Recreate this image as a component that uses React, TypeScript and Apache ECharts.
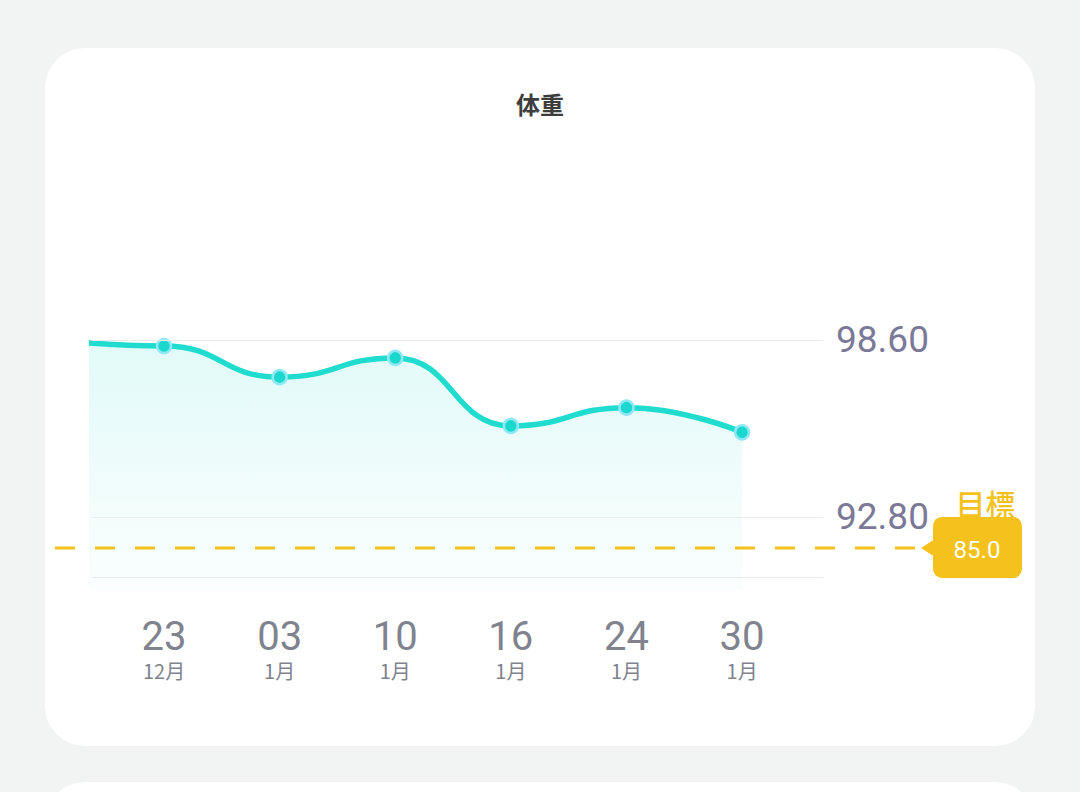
import React, { useEffect, useRef } from "react";
import * as echarts from "echarts";

// ---- data ----
const DAYS = ["23", "03", "10", "16", "24", "30"];
const MONTHS = ["12月", "1月", "1月", "1月", "1月", "1月"];
const WEIGHTS = [98.4, 97.38, 98.01, 95.78, 96.38, 95.57];
const LEAD_IN_WEIGHT = 98.62; // earlier record, just off the left edge
const LABELED_LINES = [98.6, 92.8];
const BOTTOM_LINE = 90.83;
const TITLE = "体重";
const TARGET_TITLE = "目標";
const TARGET_VALUE = "85.0";
const TARGET_DRAW_LEVEL = 91.78; // level at which the app draws the target line

const W = 1080;
const H = 792;
const YELLOW = "#f5c21d";

export default function App() {
  const ref = useRef<HTMLDivElement>(null);

  useEffect(() => {
    if (!ref.current) return;
    const chart = echarts.init(ref.current, null, { renderer: "svg", width: W, height: H });

    const seriesData: any[] = [
      { value: [-1, LEAD_IN_WEIGHT], symbol: "none" },
      ...WEIGHTS.map((w, i) => [i, w]),
    ];

    const markData: any[] = [
      ...LABELED_LINES.map((v) => ({ yAxis: v })),
      { yAxis: BOTTOM_LINE, label: { show: false } },
    ];

    const cards = [
      {
        type: "rect",
        z: -10,
        silent: true,
        shape: { x: 45, y: 48, width: 990, height: 698, r: 40 },
        style: { fill: "#ffffff" },
      },
      {
        type: "rect",
        z: -10,
        silent: true,
        shape: { x: 45, y: 782, width: 990, height: 200, r: 40 },
        style: { fill: "#ffffff" },
      },
    ];

    chart.setOption({
      animation: false,
      backgroundColor: "#f2f4f3",
      title: {
        text: TITLE,
        left: "center",
        top: 86,
        textStyle: {
          fontSize: 24,
          fontWeight: 600,
          color: "#3d3d3d",
          fontFamily: "'Noto Sans CJK SC', sans-serif",
        },
      },
      grid: { left: 92, right: 257, top: 160, bottom: 202 },
      xAxis: {
        type: "value",
        min: -0.623,
        max: 5.7,
        axisLine: { show: false },
        axisTick: { show: false },
        splitLine: { show: false },
        axisLabel: {
          customValues: [0, 1, 2, 3, 4, 5],
          margin: 24,
          formatter: (v: number) => {
            const i = Math.round(v);
            if (Math.abs(v - i) > 1e-6 || i < 0 || i >= DAYS.length) return "";
            return `{d|${DAYS[i]}}\n{m|${MONTHS[i]}}`;
          },
          rich: {
            d: {
              fontSize: 40,
              lineHeight: 44,
              color: "#80838e",
              fontFamily: "Roboto, sans-serif",
            },
            m: {
              fontSize: 20,
              lineHeight: 24,
              color: "#80838e",
              fontFamily: "'Noto Sans CJK SC', sans-serif",
            },
          },
        },
      },
      yAxis: {
        type: "value",
        min: 90.4,
        max: 104.5,
        show: false,
        splitLine: { show: false },
      },
      series: [
        {
          type: "line",
          data: seriesData,
          clip: true,
          smooth: 0.5,
          smoothMonotone: "x",
          symbol: "circle",
          symbolSize: 14,
          showSymbol: true,
          lineStyle: { color: "#1fdccf", width: 5.5 },
          itemStyle: { color: "#1bd8cf", borderColor: "#8fe8f3", borderWidth: 2.5 },
          areaStyle: {
            origin: "start",
            color: new echarts.graphic.LinearGradient(0, 0, 0, 1, [
              { offset: 0, color: "rgba(40,220,205,0.2)" },
              { offset: 1, color: "rgba(40,220,205,0.03)" },
            ]),
          },
          z: 3,
          markLine: {
            silent: true,
            symbol: ["none", "none"],
            precision: 2,
            lineStyle: { type: "solid", color: "#e9eaea", width: 1 },
            label: {
              show: true,
              position: "end",
              distance: 13,
              formatter: (p: any) => Number(p.value).toFixed(2),
              fontSize: 37,
              color: "#7b7997",
              fontFamily: "Roboto, sans-serif",
            },
            data: markData,
          },
        },
      ],
      graphic: cards,
    });

    // target annotation positioned through the chart's own scale
    const ty = chart.convertToPixel({ yAxisIndex: 0 }, TARGET_DRAW_LEVEL) as number;
    const badgeX = 933;
    const badgeW = 89;
    const badgeH = 61;
    chart.setOption({
      graphic: [
        ...cards,
        {
          type: "line",
          z: 5,
          silent: true,
          shape: { x1: 55, y1: ty, x2: 922, y2: ty },
          style: { stroke: YELLOW, lineWidth: 3, lineDash: [20, 20] },
        },
        {
          type: "text",
          z: 5,
          silent: true,
          style: {
            text: TARGET_TITLE,
            x: badgeX + badgeW / 2 + 8,
            y: ty - 45,
            align: "center",
            verticalAlign: "middle",
            fill: YELLOW,
            fontSize: 30,
            fontWeight: 500,
            fontFamily: "'Noto Sans CJK TC', sans-serif",
          },
        },
        {
          type: "polygon",
          z: 6,
          silent: true,
          shape: {
            points: [
              [badgeX - 12, ty],
              [badgeX + 2, ty - 9],
              [badgeX + 2, ty + 9],
            ],
          },
          style: { fill: YELLOW },
        },
        {
          type: "rect",
          z: 6,
          silent: true,
          shape: { x: badgeX, y: ty - 31, width: badgeW, height: badgeH, r: 9 },
          style: { fill: YELLOW },
        },
        {
          type: "text",
          z: 7,
          silent: true,
          style: {
            text: TARGET_VALUE,
            x: badgeX + 44,
            y: ty + 2,
            align: "center",
            verticalAlign: "middle",
            fill: "#ffffff",
            fontSize: 24,
            fontFamily: "Roboto, sans-serif",
          },
        },
      ],
    });

    return () => chart.dispose();
  }, []);

  return (
    <div
      ref={ref}
      style={{ position: "fixed", left: 0, top: 0, width: W, height: H }}
    />
  );
}
